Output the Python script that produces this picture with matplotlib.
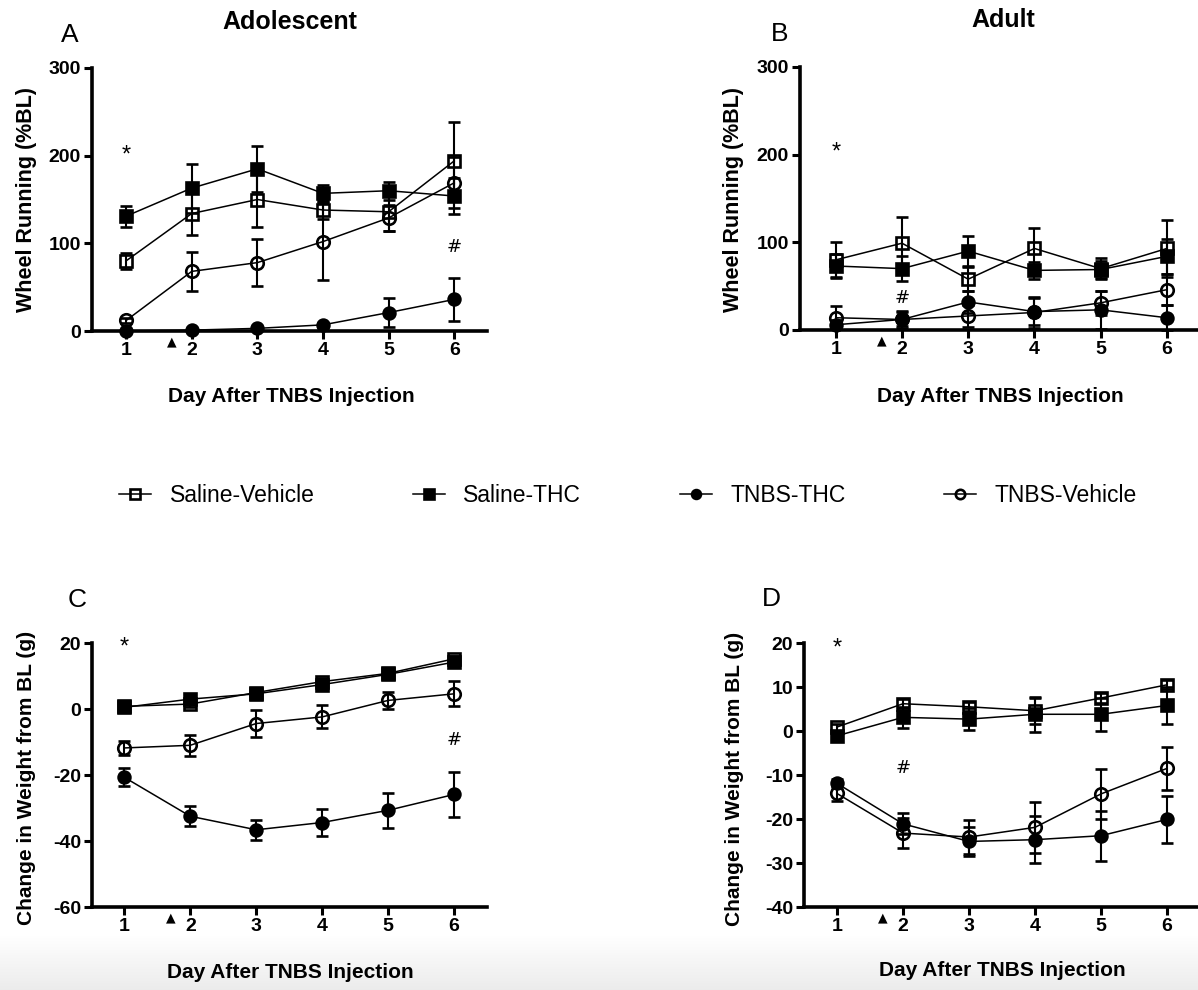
import numpy as np
import matplotlib
matplotlib.use("Agg")
import matplotlib.pyplot as plt

plt.rcParams['font.family'] = ['Liberation Sans', 'DejaVu Sans']
plt.rcParams['axes.unicode_minus'] = False

days = [1, 2, 3, 4, 5, 6]
groups = ["Saline-Vehicle", "Saline-THC", "TNBS-THC", "TNBS-Vehicle"]

# Panel A: Adolescent wheel running (%BL)
A_sal_veh = [80, 134, 150, 138, 136, 194]
A_sal_veh_err = [9, 24, 31, 10, 22, 44]
A_sal_thc = [131, 163, 185, 157, 160, 154]
A_sal_thc_err = [12, 28, 26, 9, 10, 21]
A_tnbs_thc = [0, 1, 3, 7, 21, 36]
A_tnbs_thc_err = [1, 1, 1, 2, 17, 25]
A_tnbs_veh = [12, 68, 78, 102, 129, 169]
A_tnbs_veh_err = [3, 22, 27, 44, 15, 29]

# Panel B: Adult wheel running (%BL)
B_sal_veh = [80, 99, 58, 93, 70, 93]
B_sal_veh_err = [20, 30, 14, 23, 12, 32]
B_sal_thc = [73, 70, 90, 68, 69, 84]
B_sal_thc_err = [14, 14, 17, 10, 10, 20]
B_tnbs_thc = [6, 12, 32, 21, 23, 14]
B_tnbs_thc_err = [5, 10, 13, 15, 22, 14]
B_tnbs_veh = [14, 12, 16, 20, 31, 46]
B_tnbs_veh_err = [13, 8, 13, 18, 14, 18]

# Panel C: Adolescent change in weight (g)
C_sal_veh = [0.8, 1.5, 5.0, 8.3, 10.8, 15.2]
C_sal_veh_err = [1, 1, 1, 1, 1, 1]
C_sal_thc = [0.5, 3.0, 4.6, 7.4, 10.5, 14.2]
C_sal_thc_err = [1, 1, 1, 1, 1, 1.5]
C_tnbs_thc = [-20.7, -32.5, -36.6, -34.4, -30.7, -25.9]
C_tnbs_thc_err = [2.7, 3, 3, 4.2, 5.3, 6.8]
C_tnbs_veh = [-11.8, -11.0, -4.4, -2.4, 2.6, 4.6]
C_tnbs_veh_err = [2, 3.2, 4, 3.5, 2.6, 3.8]

# Panel D: Adult change in weight (g)
D_sal_veh = [0.9, 6.2, 5.5, 4.6, 7.5, 10.5]
D_sal_veh_err = [0.8, 1, 1, 3, 1.2, 1]
D_sal_thc = [-1.1, 3.1, 2.7, 3.8, 3.8, 5.8]
D_sal_thc_err = [0.8, 2.4, 2.5, 4, 3.8, 4.2]
D_tnbs_thc = [-11.9, -21.1, -25.1, -24.7, -23.8, -20.1]
D_tnbs_thc_err = [1, 2.4, 3.3, 5.3, 5.7, 5.4]
D_tnbs_veh = [-14.2, -23.2, -24.1, -21.9, -14.3, -8.5]
D_tnbs_veh_err = [1.7, 3.4, 3.9, 5.8, 5.7, 4.9]

styles = {
    "Saline-Vehicle": dict(marker='s', mfc='none', ms=9),
    "Saline-THC": dict(marker='s', mfc='black', ms=9),
    "TNBS-THC": dict(marker='o', mfc='black', ms=8.5),
    "TNBS-Vehicle": dict(marker='o', mfc='none', ms=9),
}

W, H = 1198, 990
fig = plt.figure(figsize=(W / 100, H / 100), dpi=100)

# light gray band at bottom
bg = fig.add_axes([0, 0, 1, 0.055], zorder=-10)
grad = np.linspace(1.0, 0.925, 50).reshape(-1, 1)
bg.imshow(np.dstack([grad, grad, grad]), aspect='auto', extent=[0, 1, 0, 1], origin='upper')
bg.set_axis_off()


def px_axes(left, right, top, bottom):
    return fig.add_axes([left / W, 1 - bottom / H, (right - left) / W, (bottom - top) / H])


def draw(ax, series, xlim, ylim, yticks):
    handles = []
    for name, (vals, errs) in zip(groups, series):
        st = styles[name]
        h = ax.errorbar(days, vals, yerr=errs, color='black', lw=1.1, elinewidth=1.5,
                        capsize=4.5, capthick=1.5, marker=st['marker'], ms=st['ms'],
                        mfc=st['mfc'], mec='black', mew=1.9, clip_on=False, label=name)
        handles.append(h[0])
    ax.set_xlim(*xlim)
    ax.set_ylim(*ylim)
    ax.set_yticks(yticks)
    ax.set_xticks(days)
    for s in ['top', 'right']:
        ax.spines[s].set_visible(False)
    for s in ['left', 'bottom']:
        ax.spines[s].set_linewidth(2.6)
    ax.tick_params(axis='both', direction='out', length=6, width=2.2, labelsize=14, pad=2)
    for lab in ax.get_xticklabels() + ax.get_yticklabels():
        lab.set_fontweight('bold')
    ax.annotate('▲', xy=(1.7, ylim[0]), xytext=(0, -8), textcoords='offset points',
                ha='center', va='center', fontsize=9, family='DejaVu Sans',
                annotation_clip=False)
    ax.set_facecolor('none')
    return handles


axA = px_axes(92, 487, 68, 331)
hA = draw(axA, [(A_sal_veh, A_sal_veh_err), (A_sal_thc, A_sal_thc_err),
                (A_tnbs_thc, A_tnbs_thc_err), (A_tnbs_veh, A_tnbs_veh_err)],
          (0.48, 6.5), (0, 300), [0, 100, 200, 300])
axA.text(1, 200, '*', ha='center', va='center', fontsize=17)
axA.text(6, 96, '#', ha='center', va='center', fontsize=13, family='DejaVu Sans')

axB = px_axes(800, 1198, 67, 330)
draw(axB, [(B_sal_veh, B_sal_veh_err), (B_sal_thc, B_sal_thc_err),
           (B_tnbs_thc, B_tnbs_thc_err), (B_tnbs_veh, B_tnbs_veh_err)],
     (0.46, 6.47), (0, 300), [0, 100, 200, 300])
axB.text(1, 202, '*', ha='center', va='center', fontsize=17)
axB.text(2, 36, '#', ha='center', va='center', fontsize=13, family='DejaVu Sans')

axC = px_axes(92, 487, 643, 907)
draw(axC, [(C_sal_veh, C_sal_veh_err), (C_sal_thc, C_sal_thc_err),
           (C_tnbs_thc, C_tnbs_thc_err), (C_tnbs_veh, C_tnbs_veh_err)],
     (0.51, 6.5), (-60, 20), [-60, -40, -20, 0, 20])
axC.text(1, 18.5, '*', ha='center', va='center', fontsize=17)
axC.text(6, -9.5, '#', ha='center', va='center', fontsize=13, family='DejaVu Sans')

axD = px_axes(804, 1198, 643, 907)
draw(axD, [(D_sal_veh, D_sal_veh_err), (D_sal_thc, D_sal_thc_err),
           (D_tnbs_thc, D_tnbs_thc_err), (D_tnbs_veh, D_tnbs_veh_err)],
     (0.5, 6.47), (-40, 20), [-40, -30, -20, -10, 0, 10, 20])
axD.text(1, 18.8, '*', ha='center', va='center', fontsize=17)
axD.text(2, -8.5, '#', ha='center', va='center', fontsize=13, family='DejaVu Sans')


def ftext(x, y, s, **kw):
    fig.text(x / W, 1 - y / H, s, ha='center', va='center', **kw)


ftext(290, 22, 'Adolescent', fontsize=18, fontweight='bold')
ftext(1003, 20, 'Adult', fontsize=18, fontweight='bold')
ftext(70, 35, 'A', fontsize=19)
ftext(780, 34, 'B', fontsize=19)
ftext(77, 600, 'C', fontsize=19)
ftext(771, 599, 'D', fontsize=19)
ftext(27, 200, 'Wheel Running (%BL)', fontsize=15.5, fontweight='bold', rotation=90)
ftext(734, 199, 'Wheel Running (%BL)', fontsize=15.5, fontweight='bold', rotation=90)
ftext(27, 778, 'Change in Weight from BL (g)', fontsize=15, fontweight='bold', rotation=90)
ftext(735, 779, 'Change in Weight from BL (g)', fontsize=15, fontweight='bold', rotation=90)
ftext(291, 397, 'Day After TNBS Injection', fontsize=15, fontweight='bold')
ftext(1000, 397, 'Day After TNBS Injection', fontsize=15, fontweight='bold')
ftext(290, 972, 'Day After TNBS Injection', fontsize=15, fontweight='bold')
ftext(1002, 970, 'Day After TNBS Injection', fontsize=15, fontweight='bold')

leg = fig.legend(hA, groups, loc='center', bbox_to_anchor=(628 / W, 1 - 496 / H), ncol=4,
                 frameon=False, fontsize=16.5, handlelength=1.4, handletextpad=0.8,
                 columnspacing=4.3, markerscale=0.75)

fig.savefig('out.png', dpi=100)
